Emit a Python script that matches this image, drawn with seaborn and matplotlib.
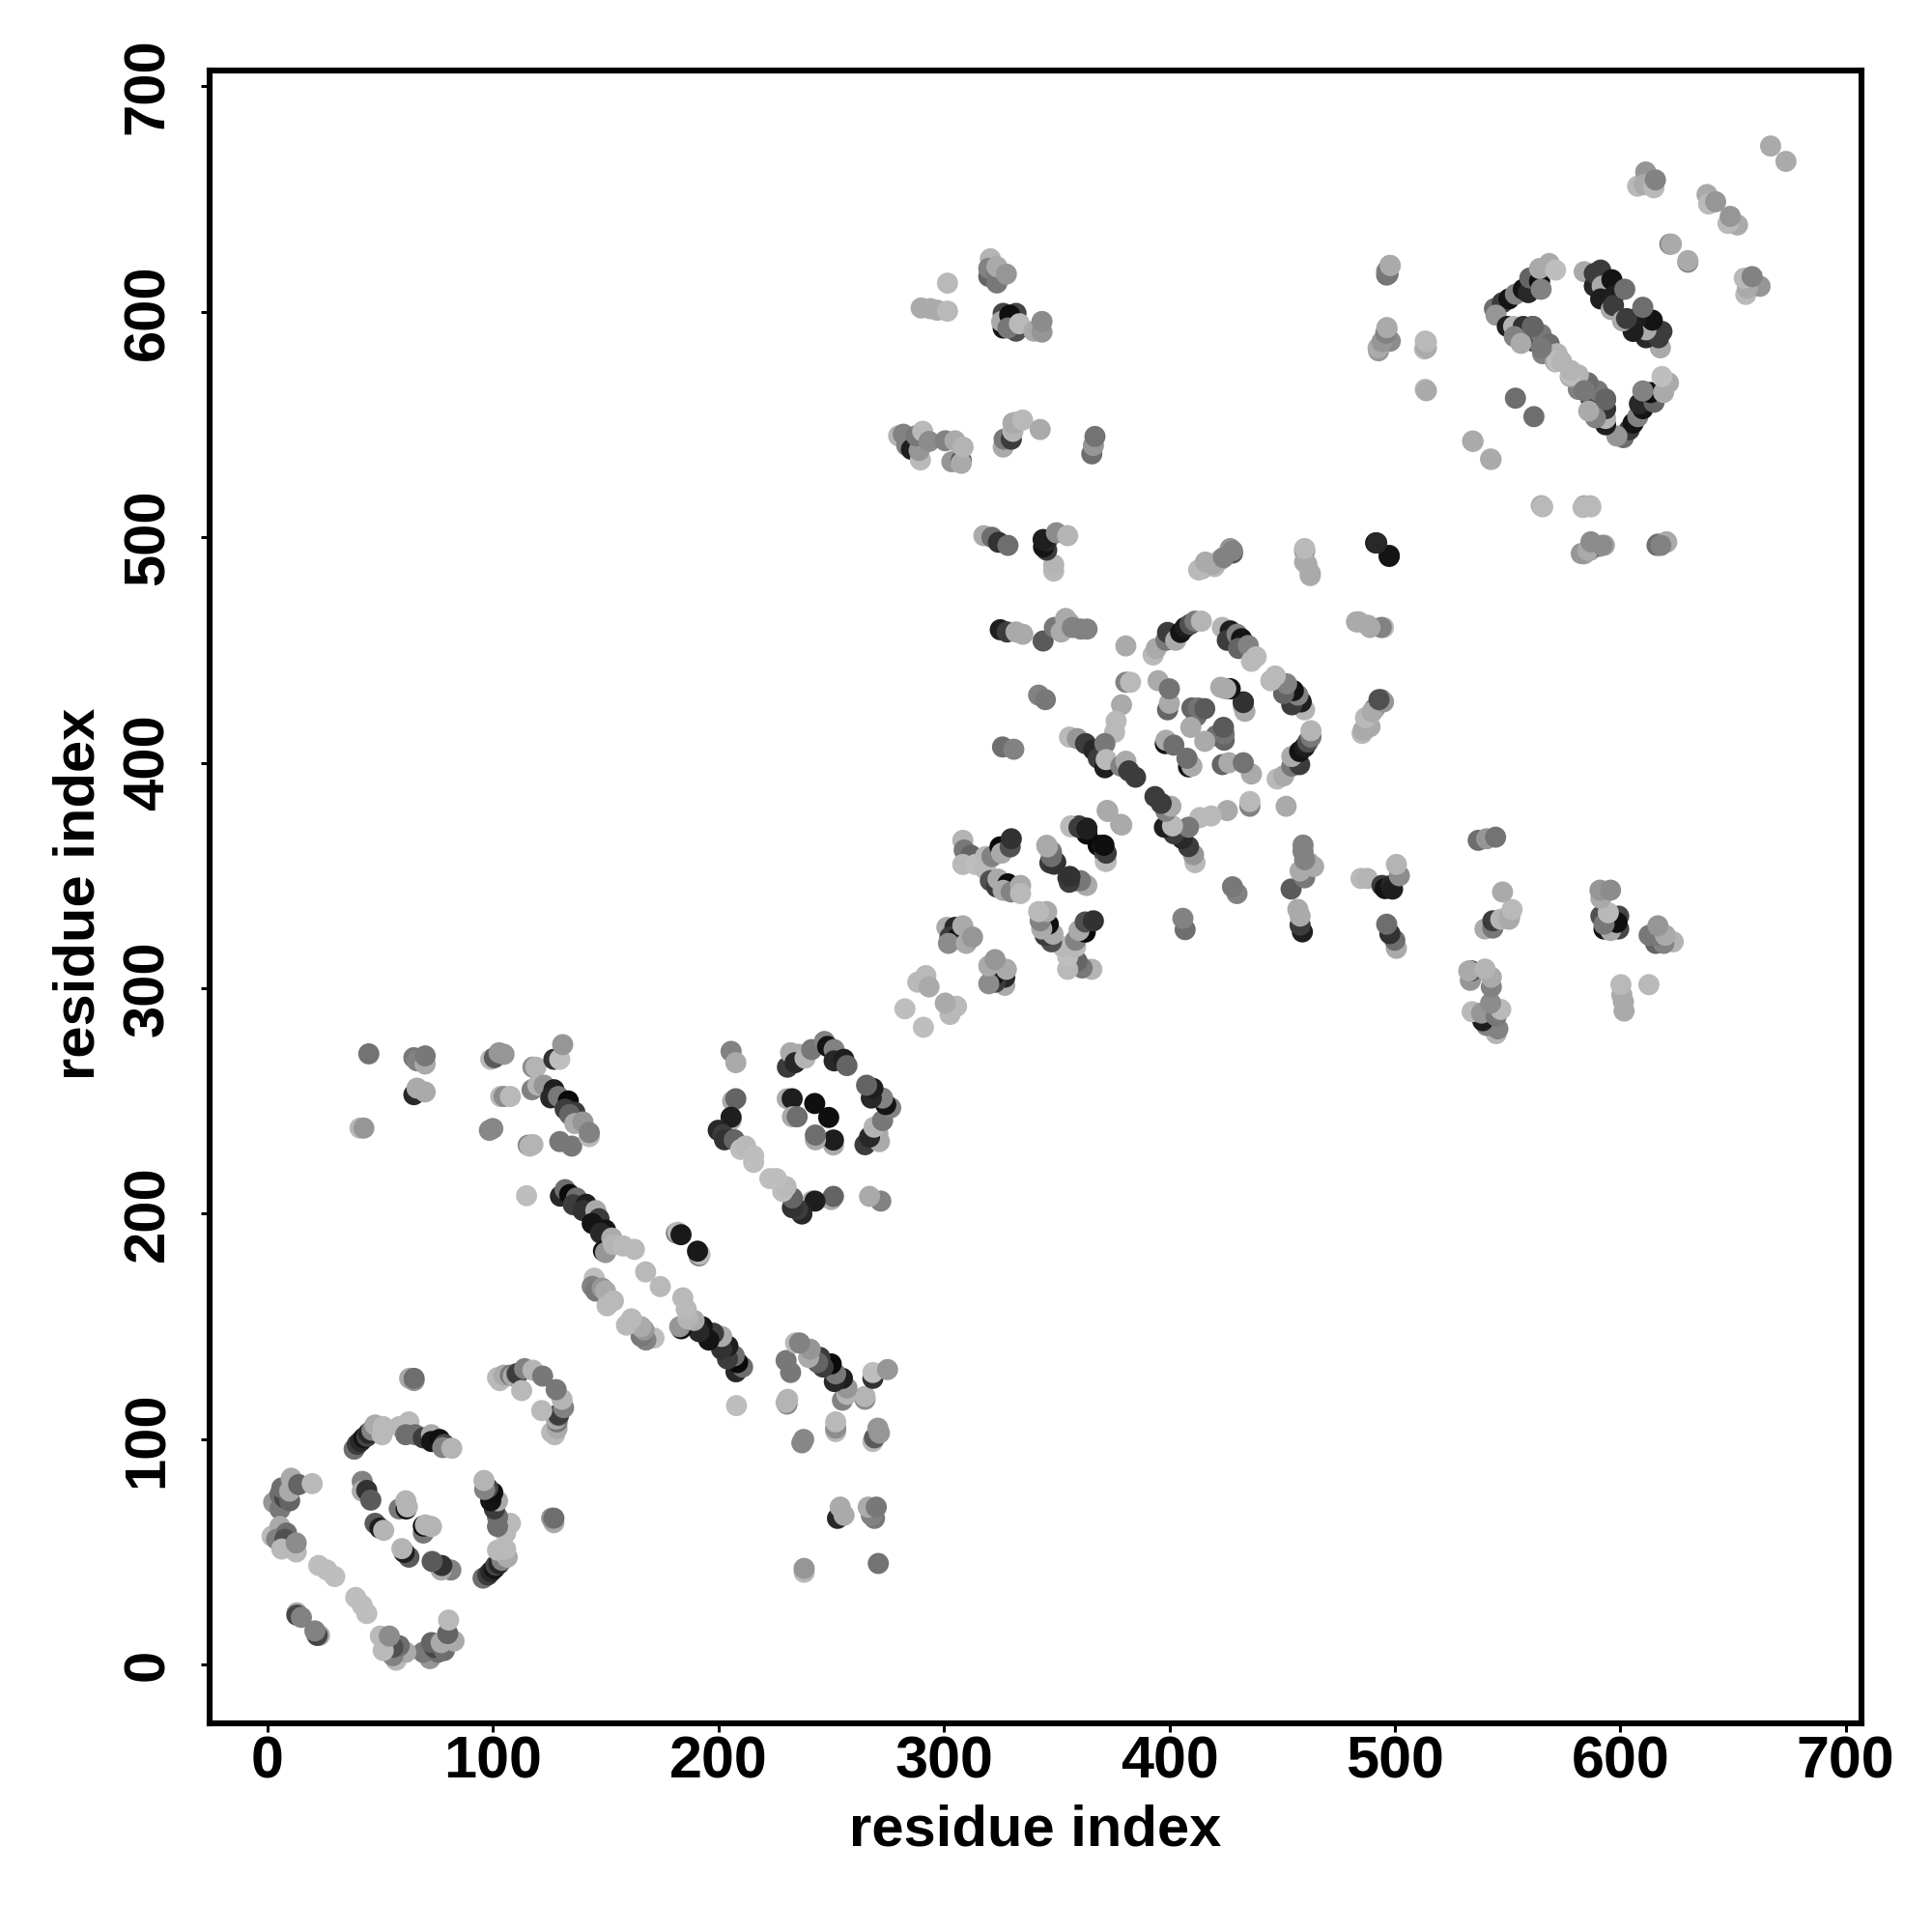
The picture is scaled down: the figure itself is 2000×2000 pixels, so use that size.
import matplotlib
matplotlib.use("Agg")
import matplotlib.pyplot as plt
import pandas as pd
import seaborn as sns

# Contacts (residue i, residue j, grey level), upper triangle; the map is symmetric.
domain_a = [
 (2.7,72,150),(5.5,69,120),(5.5,75.6,110),(7.7,74,70),(9.8,72.7,100),(6.3,78.4,110),(10.5,82.7,170),(9.8,77,170),(13.8,79.9,100),(19.8,80.3,185),
 (2,57,185),(5.5,61.3,170),(4,55.6,130),(8.4,58.4,110),(7.7,55.6,80),(6.3,51.3,185),(12.7,50,185),(12.7,54,140),
 (22.7,44,190),(26.3,42,190),(29.8,39.1,190),(13,23,170),(13,22,70),(15,21,130),
 (58.4,69.1,120),(61.5,69.1,10),(61.3,72.7,180),(62,70,180),(47.7,62.7,90),(49.8,60.6,30),(51.5,59.6,180),
 (42,81.3,130),(42,77,170),(44,77.3,50),(45.8,73,90),
 (38.4,95.6,110),(39.8,97.7,60),(41.3,99.1,40),(42.7,100.6,20),(44.1,101.3,70),(44.8,102.7,40),(46.3,104,130),(47.7,106.3,170),(51.3,105.6,185),(50.8,102,185),
 (58.4,105.6,185),(62.7,107.7,185),(61.3,102,110),(65.5,102,110),(69.1,100.6,60),(72.7,102,170),(72.7,99,20),(76.3,99.9,15),(78.4,97.7,70),(77.7,96.3,130),(81.7,96,180),
 (102,127.3,185),(103,126,185),(104.8,128.4,170),(107.7,128.4,120),(109,128,170),(110.5,129.1,100),(111,129,60),(114,131.3,130),(112.7,121.6,185),(117.7,130.6,180),(122,128,120),
 (63,127,170),(65,126,150),(65,127,110),
]
domain_a_b = [
 (44.9,270.9,115),(64.9,269.2,120),(66.3,267.8,130),(69.9,266.4,170),(69.9,270,120),
 (99,268.5,185),(100.6,269.2,90),(102.7,271.4,150),(104.9,270.7,150),
 (117.7,265,140),(119,265,180),(127,268.5,50),(129.6,268.5,190),(130.9,275,150),
 (64.9,252.8,40),(66.3,255.7,170),(69.9,254,170),
 (103.4,252,185),(104.9,252,140),(107.7,252,185),
 (41,238,185),(42.7,238,150),(98.4,237,135),(99.9,237.8,135),
 (115.6,230.4,130),(116.3,230,180),(117.7,230.7,180),(129.6,232,120),(134.9,230,120),
 (117.3,255,130),(119.9,257,180),(122.7,257,150),(127,255,30),(125.6,251.4,40),(129,252,120),(133.4,250,10),(132,246.4,60),(136.3,245,60),(134,244,100),(136.3,240,170),(139.9,240.7,150),(142.7,234.2,185),(142.7,236,130),
 (114.9,208,190),(129.9,207.8,40),(132,210.7,110),(134,208.5,10),(137,207,110),(135.6,204,60),(141.3,204.2,30),(139.9,201.4,50),(145.6,201.4,170),(147,197.8,60),(144,195.7,20),(149.9,192.8,20),(147.7,191.4,40),(149,183.5,20),(149.9,182.8,150),(152.7,189.2,170),(153.4,186.4,180),(157.7,185.7,185),(162.7,184.2,185),
 (181.3,191.4,130),(182,191.8,185),(183.4,190.7,25),(167.7,174.2,185),
 (144.9,171.4,190),(144,167.8,130),(145.6,165.7,120),(148.4,167,150),(149.9,165.7,170),(150.6,159.2,185),(153.4,161.4,185),
]
domain_b = [
 (205.6,272,130),(207.7,267,170),(206.3,250,170),(207.7,251,100),(205.6,241.5,180),(205.6,242.8,30),
 (199.9,237,40),(202,235,60),(202.7,232.8,50),(207,232.8,100),(209.9,228.5,190),(212,230,185),(215.6,225.7,190),(215.6,222.8,190),
 (230.6,265,60),(232,271.4,170),(235.6,270.7,170),(234,267,40),(238.4,269,180),(241.3,272.8,120),(247,276.4,130),(248.4,274.2,20),(251.3,272.8,130),(251.3,267.8,40),(255.6,268.5,30),(257,265.7,100),
 (230.5,251,170),(232.7,251,30),(242.7,248.9,15),(232.8,243,170),(234.9,243,110),
]
domain_b_c = [
 (282.7,290.9,190),(288.4,302.7,185),(291.3,303.4,185),(292,305.6,185),(293.4,300.6,170),
 (301.3,327,170),(304.9,327,40),(302.7,322.7,60),(305.6,322,20),(302,319.9,140),(308.4,327.7,170),(309.9,319.9,170),(312.7,322.7,150),
 (308.4,365.6,180),(309,361.3,120),(312,359,100),(308.4,354.9,185),(314,354.9,190),(318.4,352.7,185),(318.4,358.4,185),(321.3,358.4,130),(324.9,362.7,10),(325.6,359.9,170),(329.4,362.7,80),(329.9,366.3,50),
 (320.6,347.7,80),(323.4,344.9,60),(324,348.4,170),(328.4,346.3,15),(326.3,343.4,170),(329.9,342.7,130),(334,345.6,170),(334,342,185),
 (345.6,363.4,170),(347.7,360.6,120),(347,355.6,60),(349.6,355.9,50),(355,348.9,50),(358.4,347.7,110),(362.7,345.9,170),
 (356.3,372,185),(359.9,372,60),(363.4,371,15),(371.6,356.3,185),(368.4,363.4,10),(371.3,359.9,60),(370.6,363.4,30),(372.4,378.9,170),(378.4,372.7,170),
 (325,459,30),(328,458,60),(332,458,170),(335,457,170),(344,454,90),(349,460,120),(352,458,170),(354,464,170),(355.7,462,170),(357,460,130),(360.7,459.3,130),(363.5,459.3,130),
 (342,430,130),(345,428,120),(326,407,110),(331,406,130),
]
domain_c = [
 (380.7,451.8,170),(392.8,447.8,185),(394.2,450.7,170),(398.5,454.3,120),(399.2,457.8,60),(402.8,454.3,170),(405,457.8,20),(407,460,30),(409.2,461.4,80),(411.4,462.8,120),(414.2,462.8,180),
 (423.5,460,180),(427,458.5,30),(425.7,454.3,60),(430,457,130),(432,455,20),(430.7,450.7,100),(435,452,130),(436.4,445,185),(438.5,447,185),
 (380.7,435.7,130),(382.8,435.7,185),(378.8,425.7,170),(376.4,418.5,185),(375.7,413.5,185),
 (355.7,411.4,185),(359.2,410.7,150),(362.8,408.5,60),(366.4,405.7,40),(368.5,402,60),(371.4,397.8,30),(371.4,408.5,120),(372,401.4,185),
 (378.5,398.5,130),(380.7,400.7,170),(382,396.4,60),(385,393.6,60),
 (395,436.4,170),(399.2,423.5,100),(400,426.4,170),(400,432.8,115),
 (412,420.7,110),(410,424.3,100),(412.8,424.3,115),(415.7,424,90),(409.5,415.7,170),
 (422.8,433.5,170),(426.7,432.8,50),(432.8,427,20),(432.8,425,170),
 (398.2,408.5,20),(398.5,410,170),(402,407.8,110),
 (414.4,486,170),(420,487,185),(422.6,490,170),(427,495,150),(428,493,80),
 (460,494,130),(460,489,170),(462.5,484,170),(491.5,497.5,20),(497.5,492,40),
 (483,462.5,170),(488,461,170),(495,460,185),
 (485.5,413,185),(488,419,170),(489,416,170),(491,424,130),(494,428,130),
]
domain_b_d = [
 (301.6,612.7,185),(320.6,623.5,180),(319.9,615.7,100),(319.9,619.3,130),(323.5,612.8,120),(323.5,616,120),(323.5,620,170),(327.7,616.7,150),
 (289.9,601.7,170),(294,601.4,170),(297,600.7,170),(301.6,600.3,185),
 (326.3,599.3,70),(326.3,592.8,20),(325.6,595.7,170),(332,599.3,70),(329.2,598.5,15),(332,591.4,80),(328.4,592.8,120),(333.5,594.7,185),(339.9,591.4,170),(343.5,591,150),(343.5,595.7,140),
 (279.9,545,180),(282,545.7,130),(283.5,540.7,130),(285.6,542.8,130),(285.6,539,30),(289.6,534.3,185),(289,538.5,150),(287.7,545,120),(290.6,547,185),(293.4,542.5,140),
 (300.6,542.8,130),(304.9,542.8,170),(303.5,533.5,150),(307.7,534,80),(307.7,532.8,170),(308.5,540,180),
 (326.3,540,170),(326.7,543.5,120),(329.9,543.5,60),(330.6,547,180),(330.6,550.7,170),(332,551,170),(334.9,552,185),(342.7,547.8,170),
 (365.6,537,110),(366.3,540.7,150),(367,544.7,115),
 (317.7,500.7,170),(321.3,500,110),(324.2,497.8,50),(328.4,496.4,110),
 (348.7,485,185),(348.7,487.8,180),(345.6,494.3,60),(344.2,495.7,20),(345.6,498.5,40),(344,499,30),(349.9,502,140),(354.9,500.7,180),
]
domain_c_d = [
 (497.8,620.6,170),(496.4,616.3,110),(496.4,618,130),(492.8,582.7,150),(495.7,587.7,80),(494.2,585.6,170),(496.4,592,140),(498,587,140),
 (513.5,587,185),(513.2,583.5,185),(513.5,565.6,185),(534.5,542.7,170),(542.5,534.7,170),(553.5,561.7,110),
 (565,514,170),(584,514,170),(586.7,514,185),(584,492.6,170),(586.7,494.3,150),(590.5,496,130),(593,496.5,170),(616.7,497,120),(620.5,498,170),
]
domain_d = [
 (607.7,655.7,185),(611.3,662,150),(610.6,656.4,170),(614.9,655,185),(615.6,658.5,130),
 (638.5,652,170),(639.2,647.8,185),(642.3,648.8,150),(666.7,673.5,170),(622,630,130),(622.7,630,170),
 (544.2,601.4,110),(547.7,604,60),(550.6,605.7,20),(553.5,607.8,130),(557,610,20),(559.2,608.5,40),(559.9,615,100),(564.2,613.5,15),(564.9,610,130),(564.2,619.2,170),(568.5,621.4,170),(571.3,618.5,190),
 (544.9,598.5,150),(549.9,593.5,30),(553.5,590,130),(552.7,593.5,180),(557,593.5,50),(561.3,587,60),(561,593.5,100),(564.9,590,120),(565.6,581.4,130),(568.5,585.7,110),(571.3,577.8,170),(572,581.4,180),
 (572,578,190),(574,578,180),
 (584,617.8,170),(588.5,611.4,40),(588.5,617,60),(591.3,618.5,60),(592,611.4,170),(596.3,614.2,20),(591.3,605.7,30),(597,607,30),(596,601,170),(597,602.8,60),(602,610,110),
 (553,589,130),(556,586,170),(561.4,593.5,100),(565,584,120),
]

tick_values = [0, 100, 200, 300, 400, 500, 600, 700]
axis_title = "residue index"

upper = domain_a + domain_a_b + domain_b + domain_b_c + domain_c + domain_b_d + domain_c_d + domain_d
df_up = pd.DataFrame(upper, columns=["i", "j", "shade"])
df_low = df_up.rename(columns={"i": "j", "j": "i"})[["i", "j", "shade"]]
df = pd.concat([df_up, df_low], ignore_index=True)

sns.set_theme(style="white")
plt.rcParams["font.family"] = ["Liberation Sans", "DejaVu Sans"]
plt.rcParams["font.weight"] = "bold"

fig = plt.figure(figsize=(10, 10), dpi=200, facecolor="white")
ax = fig.add_axes([217/2000, 1-1784/2000, 1710/2000, 1711/2000])
palette = {g: str(g/255) for g in df["shade"].unique()}
sns.scatterplot(data=df, x="i", y="j", hue="shade", palette=palette, s=62,
                linewidth=0, legend=False, ax=ax, clip_on=True, zorder=3)

ax.set_xlim(-25.7, 707)
ax.set_ylim(-26, 707)
ax.set_xticks(tick_values)
ax.set_yticks(tick_values)
ax.set_xticklabels([str(v) for v in tick_values], fontsize=22, fontweight="bold", color="black")
ax.set_yticklabels([str(v) for v in tick_values], fontsize=21.5, fontweight="bold", color="black",
                   rotation=90, va="center")
ax.tick_params(axis="both", which="major", direction="out", length=3.4, width=1.1,
               color="black", bottom=True, left=True)
ax.tick_params(axis="x", pad=1)
ax.tick_params(axis="y", pad=9.5)
for s in ax.spines.values():
    s.set_visible(True)
    s.set_color("black")
    s.set_linewidth(2.2)
ax.grid(False)
ax.set_xlabel(axis_title, fontsize=21.5, fontweight="bold", color="black", va="center")
ax.set_ylabel(axis_title, fontsize=21.5, fontweight="bold", color="black", va="center")
ax.xaxis.set_label_coords(0.5, -0.065)
ax.yaxis.set_label_coords(-0.079, 0.502)

fig.savefig("out.png", dpi=200, facecolor="white")
